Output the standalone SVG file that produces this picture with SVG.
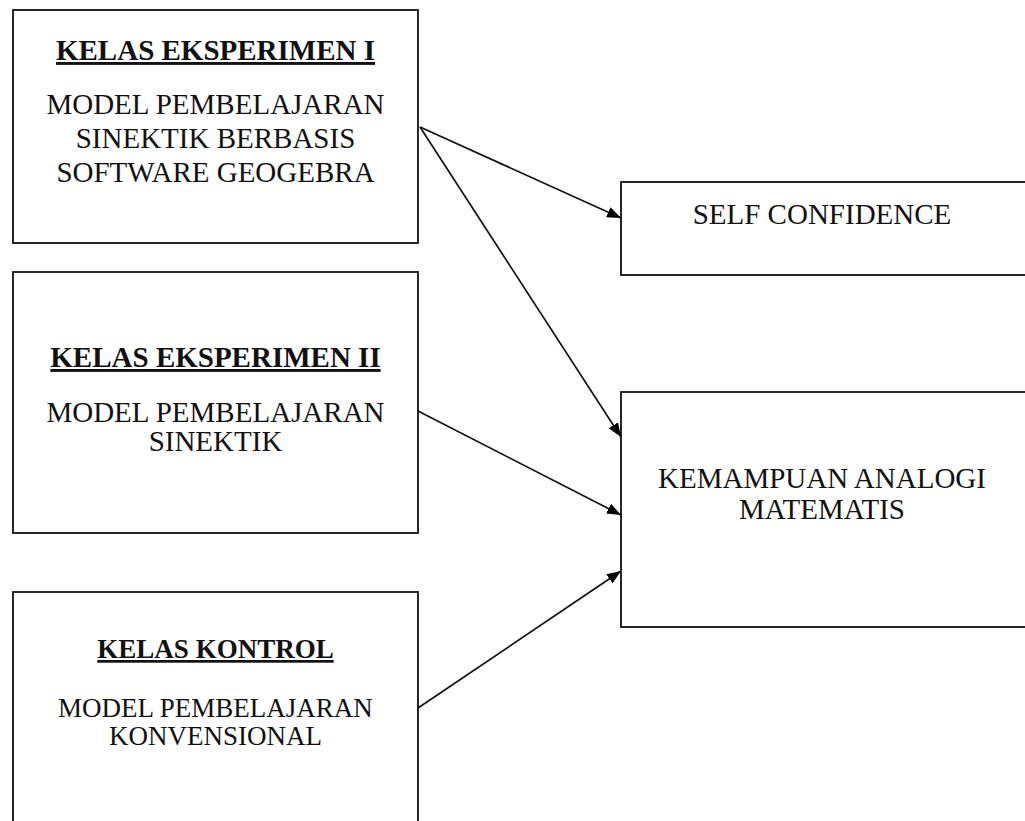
<svg xmlns="http://www.w3.org/2000/svg" width="1025" height="821" viewBox="0 0 1025 821">
<defs>
<style>
.box{fill:#fff;stroke:#111;stroke-width:1.8}
.t{font-family:"Liberation Serif","Times New Roman",serif;fill:#111;text-anchor:middle}
.h{font-weight:bold;text-decoration:underline}
.c{stroke:#111;stroke-width:1.7;fill:none;marker-end:url(#ah)}
</style>
<marker id="ah" viewBox="0 0 14 11" refX="14" refY="5.5" markerWidth="14" markerHeight="11" markerUnits="userSpaceOnUse" orient="auto">
<path d="M0,0 L14,5.5 L0,11 z" fill="#000"/>
</marker>
</defs>
<rect width="1025" height="821" fill="#fff"/>
<g id="kelas-eksperimen-1">
<rect class="box" x="13" y="10" width="405" height="233"/>
<text class="t h" x="215.5" y="60" font-size="29">KELAS EKSPERIMEN I</text>
<text class="t" x="215.5" y="114" font-size="29">MODEL PEMBELAJARAN</text>
<text class="t" x="215.5" y="148" font-size="29">SINEKTIK BERBASIS</text>
<text class="t" x="215.5" y="182" font-size="29">SOFTWARE GEOGEBRA</text>
</g>
<g id="kelas-eksperimen-2">
<rect class="box" x="13" y="272" width="405" height="261"/>
<text class="t h" x="215.5" y="367" font-size="29">KELAS EKSPERIMEN II</text>
<text class="t" x="215.5" y="422" font-size="29">MODEL PEMBELAJARAN</text>
<text class="t" x="215.5" y="451" font-size="29">SINEKTIK</text>
</g>
<g id="kelas-kontrol">
<rect class="box" x="13" y="592" width="405" height="260"/>
<text class="t h" x="215.5" y="658" font-size="27">KELAS KONTROL</text>
<text class="t" x="215.5" y="717" font-size="27">MODEL PEMBELAJARAN</text>
<text class="t" x="215.5" y="745" font-size="27">KONVENSIONAL</text>
</g>
<g id="self-confidence">
<rect class="box" x="621" y="182" width="440" height="93"/>
<text class="t" x="822" y="224" font-size="29">SELF CONFIDENCE</text>
</g>
<g id="kemampuan-analogi">
<rect class="box" x="621" y="392" width="440" height="235"/>
<text class="t" x="822" y="488" font-size="29">KEMAMPUAN ANALOGI</text>
<text class="t" x="822" y="519" font-size="29">MATEMATIS</text>
</g>
<g id="connectors">
<line class="c" x1="420" y1="127" x2="621" y2="218"/>
<line class="c" x1="420" y1="127" x2="621" y2="437"/>
<line class="c" x1="418" y1="411" x2="621" y2="515"/>
<line class="c" x1="418" y1="708" x2="621" y2="571"/>
</g>
</svg>
